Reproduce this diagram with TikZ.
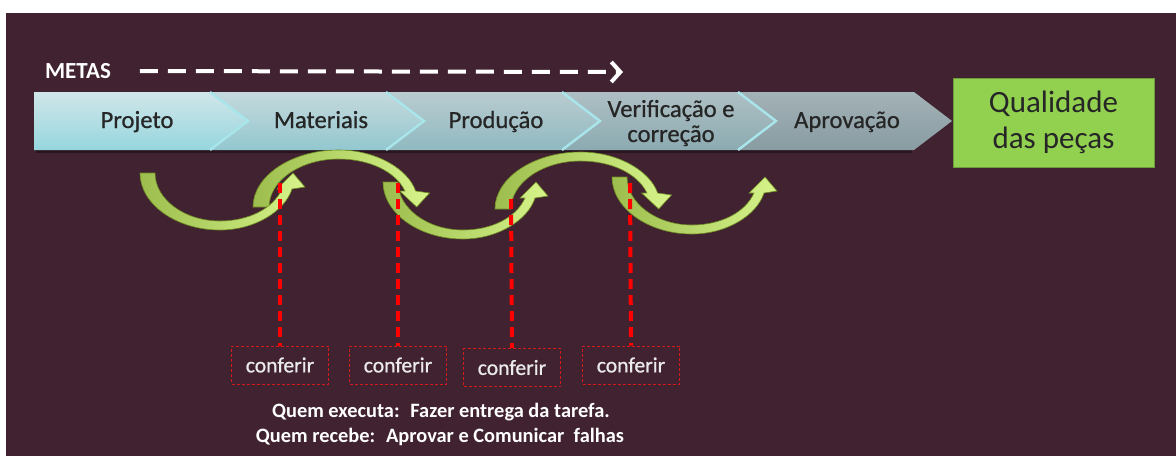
\documentclass[tikz,border=0pt]{standalone}
\usepackage{fontspec}
\setmainfont{Carlito}
\newfontfamily\stagefont[FakeBold=0.8]{Carlito}
\usetikzlibrary{arrows.meta,positioning,calc}

\definecolor{bgwine}{HTML}{412230}
\definecolor{labelgray}{HTML}{262626}
\definecolor{chevtopA}{HTML}{D0E6E9}
\definecolor{chevtopB}{HTML}{A3B2B7}
\definecolor{chevbotA}{HTML}{96D6DE}
\definecolor{chevbotB}{HTML}{889CA2}
\definecolor{chevedge}{HTML}{A8E6EC}
\definecolor{goalgreen}{HTML}{92D050}
\definecolor{arrowtail}{HTML}{9DBD4E}
\definecolor{arrowmid}{HTML}{A4CE34}
\definecolor{arrowtip}{HTML}{D6F48A}
\definecolor{arrowedge}{HTML}{6E8C22}
\definecolor{checkred}{HTML}{FF0000}
\definecolor{boxred}{HTML}{D41A1A}

\begin{document}
\begin{tikzpicture}[x=0.5pt,y=-0.5pt,
    stage/.style={text=labelgray,align=center,anchor=base,
                  font=\stagefont\fontsize{12.3}{12.5}\selectfont},
    goal/.style={draw=goalgreen!75!black,fill=goalgreen,text=labelgray,align=center,
                 minimum width=100.5pt,minimum height=44.5pt,
                 font=\fontsize{15.5}{18}\selectfont},
    checkbox/.style={draw=boxred,line width=0.5pt,dash pattern=on 1.5pt off 1pt,
                     minimum width=48.5pt,minimum height=19pt,text=white!92!black,
                     font=\stagefont\fontsize{10.8}{12}\selectfont},
    checkline/.style={draw=checkred,line width=2pt,dash pattern=on 5pt off 3pt},
    note/.style={text=white,font=\bfseries\fontsize{10.2}{12}\selectfont},
    bend arrow/.pic={
      \shade[left color=arrowtail,middle color=arrowmid,right color=arrowtip,
             draw=arrowedge,line width=0.3pt]
        (0,0) .. controls (0,31) and (36,57) .. (80,57)
        .. controls (115,57) and (145,38) .. (152,16)
        -- (165,14) -- (153,0) -- (137,16) -- (142,16)
        .. controls (133,36) and (108,48) .. (80,48)
        .. controls (44,48) and (15,26) .. (15,0) -- cycle;
    }]
  \useasboundingbox (0,0) rectangle (1176,456);
  \fill[white] (0,0) rectangle (1176,456);
  \fill[bgwine] (6,13) rectangle (1176,456);

  % process bar
  \fill[black,opacity=0.35] (36,150) rectangle (912,153);
  \foreach \k in {0,...,4}{
    \pgfmathtruncatemacro{\mix}{100-25*\k}
    \pgfmathtruncatemacro{\xl}{34+176*\k}
    \pgfmathtruncatemacro{\xr}{\xl+176}
    \pgfmathtruncatemacro{\nd}{\k==0 ? 0 : 38}
    \shade[top color=chevtopA!\mix!chevtopB,bottom color=chevbotA!\mix!chevbotB]
      (\xl,92) -- (\xr,92) -- (\xr+38,121) -- (\xr,150) -- (\xl,150)
      -- (\xl+\nd,121) -- cycle;
    \ifnum\k>0
      \draw[chevedge,line width=1.2pt] (\xl,92) -- (\xl+38,121) -- (\xl,150);
    \fi
  }
  \node[stage] (projeto) at (137,128) {Projeto};
  \node[stage] (materiais) at (321,128) {Materiais};
  \node[stage] (producao) at (496,128) {Produção};
  \node[stage,anchor=center] (verificacao) at (671,123) {Verificação e\\correção};
  \node[stage] (aprovacao) at (847,128) {Aprovação};
  \node[goal] (qualidade) at (1053.5,122.5) {Qualidade\\das peças};

  % metas
  \node[text=white,font=\bfseries\fontsize{11.5}{13}\selectfont] (metas) at (78,71) {METAS};
  \coordinate (metasend) at (623,72);
  \draw[white,line width=2pt,dash pattern=on 9pt off 5pt,
        -{Straight Barb[length=4.5pt,width=10pt]}] ([xshift=11pt]metas.east) -- (metasend);

  % curved arrows
  \pic at (612,177) {bend arrow};
  \pic[xscale=1.07,yscale=-1] at (495,209) {bend arrow};
  \pic at (383,182) {bend arrow};
  \pic[xscale=1.07,yscale=-1] at (253,207) {bend arrow};
  \pic at (140,173) {bend arrow};

  % checks
  \node[checkbox] (conf1) at (280,365) {conferir};
  \node[checkbox] (conf2) at (398,365) {conferir};
  \node[checkbox] (conf3) at (512,367.5) {conferir};
  \node[checkbox] (conf4) at (631,365) {conferir};
  \coordinate (chk1) at (280,183);
  \coordinate (chk2) at (398,183);
  \coordinate (chk3) at (511,199);
  \coordinate (chk4) at (630,183);
  \draw[checkline] (chk1) -- (conf1.north);
  \draw[checkline] (chk2) -- (conf2.north);
  \draw[checkline] (chk3) -- (conf3.north);
  \draw[checkline] (chk4) -- (conf4.north);

  \node[note] (executa) at (441,412) {Quem executa:~ Fazer entrega da tarefa.};
  \node[note] (recebe) at (440,437) {Quem recebe:~ Aprovar e Comunicar~ falhas};
\end{tikzpicture}
\end{document}
